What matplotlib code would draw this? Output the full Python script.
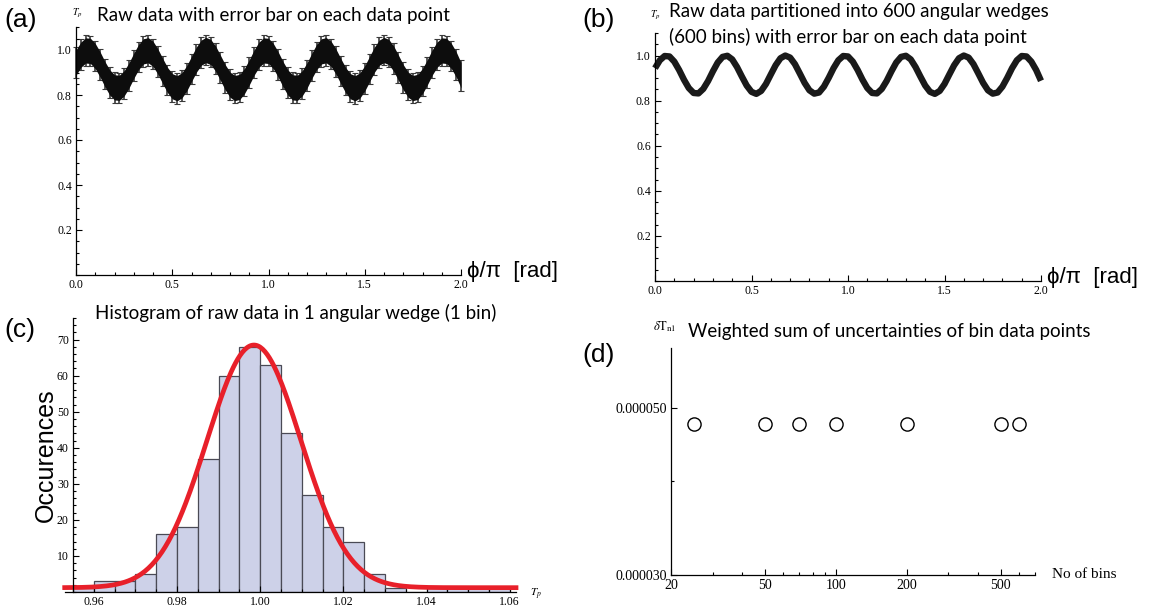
"""
Binning uncertainty figure: raw data, binned data, one-bin histogram, weighted uncertainty
"""

import matplotlib
matplotlib.use("Agg")
import matplotlib.pyplot as plt
import numpy as np
from matplotlib.ticker import FixedLocator, MultipleLocator, NullFormatter

plt.rcParams["mathtext.fontset"] = "stix"

phi = np.linspace(0.0, 2.0, 81)
tp_binned = [
    0.944, 0.979, 0.998, 0.996, 0.973, 0.936, 0.893, 0.856, 0.834, 0.832,
    0.852, 0.887, 0.930, 0.969, 0.994, 0.999, 0.983, 0.949, 0.907, 0.867,
    0.839, 0.830, 0.843, 0.874, 0.916, 0.957, 0.988, 1.000, 0.991, 0.962,
    0.921, 0.879, 0.846, 0.831, 0.836, 0.862, 0.901, 0.944, 0.979, 0.998,
    0.996, 0.973, 0.936, 0.893, 0.856, 0.834, 0.832, 0.852, 0.887, 0.930,
    0.969, 0.994, 0.999, 0.983, 0.949, 0.907, 0.867, 0.839, 0.830, 0.843,
    0.874, 0.916, 0.957, 0.988, 1.000, 0.991, 0.962, 0.921, 0.879, 0.846,
    0.831, 0.836, 0.862, 0.901, 0.944, 0.979, 0.998, 0.996, 0.973, 0.936,
    0.888,
]
# spread of the raw data (a): scatter band and error-bar reach
raw_spread = 0.056
raw_err = 0.068

# histogram of one bin (c)
hist_left = np.linspace(0.955, 1.055, 21)
hist_counts = [1, 3, 3, 5, 16, 18, 37, 60, 68, 63, 44, 27, 18, 14, 5, 1, 0, 1, 1, 1, 1]
hist_width = 0.005
# gaussian fit drawn over the histogram
fit_base = 1.2
fit_amp = 67.3
fit_mu = 0.9985
fit_sigma = 0.0113

# weighted uncertainty vs number of bins (d)
n_bins = [25, 50, 70, 100, 200, 500, 600]
delta_t = [4.76e-5, 4.76e-5, 4.76e-5, 4.76e-5, 4.76e-5, 4.76e-5, 4.76e-5]

W, H = 1169, 613
SERIF = "Liberation Serif"
SANS = ["Liberation Sans", "DejaVu Sans"]
TITLE = "Lato"


def box(x0, yb, x1, yt):
    return [x0 / W, 1 - yb / H, (x1 - x0) / W, (yb - yt) / H]


def ftext(x, y, s, **kw):
    fig.text(x / W, 1 - y / H, s, **kw)


def mma_axes(ax, labelsize=8.5):
    for side in ("top", "right"):
        ax.spines[side].set_visible(False)
    for side in ("left", "bottom"):
        ax.spines[side].set_linewidth(0.9)
    ax.tick_params(which="both", direction="in", width=0.8, labelsize=labelsize, pad=3)
    ax.tick_params(which="major", length=4)
    ax.tick_params(which="minor", length=2)
    for lab in ax.get_xticklabels() + ax.get_yticklabels():
        lab.set_fontfamily(SERIF)
    ax.patch.set_alpha(0)


def phase_axes(ax):
    ax.set_xlim(0, 2.0)
    ax.set_ylim(0, 1.1)
    ax.set_xticks([0.0, 0.5, 1.0, 1.5, 2.0])
    ax.set_xticklabels(["0.0", "0.5", "1.0", "1.5", "2.0"])
    ax.xaxis.set_minor_locator(MultipleLocator(0.1))
    ax.set_yticks([0.2, 0.4, 0.6, 0.8, 1.0])
    ax.set_yticklabels(["0.2", "0.4", "0.6", "0.8", "1.0"])
    ax.yaxis.set_minor_locator(MultipleLocator(0.05))
    mma_axes(ax)


fig = plt.figure(figsize=(W / 100, H / 100), dpi=100)

# (a) raw data
ax_a = fig.add_axes(box(76, 275, 461, 27.5))
tp = np.array(tp_binned)
ax_a.errorbar(phi, tp, yerr=raw_err, fmt="none", ecolor="#3a3a3a", elinewidth=1.2,
              capsize=2, capthick=0.8, clip_on=False, zorder=1)
ax_a.fill_between(phi, tp - raw_spread, tp + raw_spread, color="#0d0d0d", lw=0,
                  clip_on=False, zorder=2)
phase_axes(ax_a)

# (b) binned data
ax_b = fig.add_axes(box(655, 281, 1041, 33))
ax_b.plot(phi, tp_binned, color="#1a1a1a", lw=4.6, solid_capstyle="butt", clip_on=False)
phase_axes(ax_b)

# (c) histogram of one bin
ax_c = fig.add_axes(box(64.7, 592, 516, 318))
ax_c.bar(hist_left, hist_counts, width=hist_width, align="edge",
         color="#cdd1e8", edgecolor="#4a4a55", linewidth=0.9)
xs = np.linspace(0.953, 1.0615, 400)
ax_c.plot(xs, fit_base + fit_amp * np.exp(-(xs - fit_mu) ** 2 / (2 * fit_sigma ** 2)),
          color="#e8202a", lw=3.4, clip_on=False)
ax_c.set_xlim(0.953, 1.0615)
ax_c.set_ylim(0, 76)
ax_c.spines["left"].set_position(("data", 0.955))
ax_c.set_xticks([0.96, 0.98, 1.00, 1.02, 1.04, 1.06])
ax_c.set_xticklabels(["0.96", "0.98", "1.00", "1.02", "1.04", "1.06"])
ax_c.xaxis.set_minor_locator(MultipleLocator(0.005))
ax_c.set_yticks([10, 20, 30, 40, 50, 60, 70])
ax_c.set_yticklabels(["10", "20", "30", "40", "50", "60", "70"])
ax_c.yaxis.set_minor_locator(MultipleLocator(2))
mma_axes(ax_c)

# (d) weighted sum of uncertainties
ax_d = fig.add_axes(box(671, 575, 1035, 348))
ax_d.set_xscale("log")
ax_d.set_yscale("log")
ax_d.plot(n_bins, delta_t, "o", mfc="white", mec="black", ms=9.5, mew=1.0)
ax_d.set_xlim(20, 700)
ax_d.set_ylim(3e-5, 6e-5)
ax_d.xaxis.set_major_locator(FixedLocator([20, 50, 100, 200, 500]))
ax_d.xaxis.set_minor_locator(FixedLocator([30, 40, 60, 70, 80, 90, 300, 400, 600, 700]))
ax_d.xaxis.set_minor_formatter(NullFormatter())
ax_d.set_xticklabels(["20", "50", "100", "200", "500"])
ax_d.yaxis.set_major_locator(FixedLocator([3e-5, 5e-5]))
ax_d.yaxis.set_minor_locator(FixedLocator([4e-5]))
ax_d.yaxis.set_minor_formatter(NullFormatter())
ax_d.set_yticklabels(["0.000030", "0.000050"])
mma_axes(ax_d, labelsize=10)

# panel letters, titles, axis names
for x, y, s in [(4, 20, "(a)"), (582, 20, "(b)"), (4, 330, "(c)"), (582, 355, "(d)")]:
    ftext(x, y, s, fontsize=19, family=SANS, va="center", ha="left")

ftext(97, 15, "Raw data with error bar on each data point", fontsize=13.5, family=TITLE, va="center")
ftext(669, 12, "Raw data partitioned into 600 angular wedges", fontsize=13.5, family=TITLE, va="center")
ftext(669, 37, "(600 bins) with error bar on each data point", fontsize=13.5, family=TITLE, va="center")
ftext(95, 313, "Histogram of raw data in 1 angular wedge (1 bin)", fontsize=13.5, family=TITLE, va="center")
ftext(688, 331, "Weighted sum of uncertainties of bin data points", fontsize=13.5, family=TITLE, va="center")

ftext(77, 13, r"$T_p$", fontsize=7, ha="center", va="center")
ftext(655, 15, r"$T_p$", fontsize=7, ha="center", va="center")
ftext(665, 327, r"$\delta\mathrm{T}_{\mathrm{n1}}$", fontsize=9, ha="center", va="center")
ftext(530, 594, r"$T_p$", fontsize=8, ha="left", va="center")

ftext(467, 272, "\u03d5/\u03c0  [rad]", fontsize=16, family=SANS, va="center", ha="left")
ftext(1047, 278, "\u03d5/\u03c0  [rad]", fontsize=16, family=SANS, va="center", ha="left")
fig.text(46 / W, 1 - 455 / H, "Occurences", fontsize=18, family=SANS, rotation=90,
         ha="center", va="center")
ftext(1052, 575, "No of bins", fontsize=11, family=SERIF, va="center", ha="left")

plt.savefig("out.png", dpi=100)
plt.close()
print("Saved: out.png")
